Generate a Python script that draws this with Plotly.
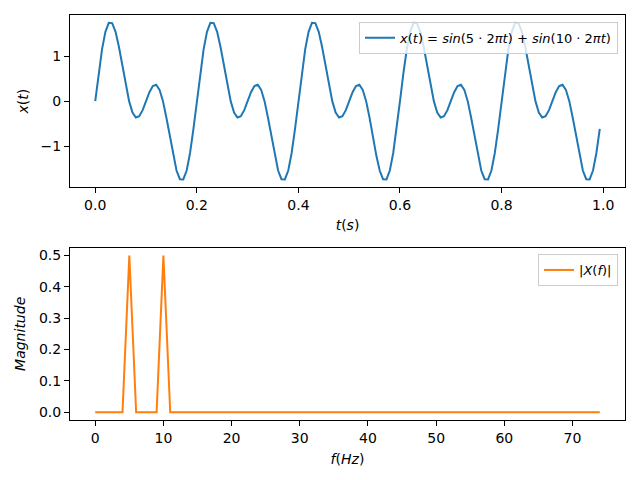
import plotly.graph_objects as go

fs = 150  # samples per second
x_values = [
    0.0, 0.6146, 1.1498, 1.5389, 1.7376, 1.7321, 1.5389, 1.2024, 0.7866, 0.3633,
    0.0, -0.2514, -0.3633, -0.3364, -0.1988, 0.0, 0.1988, 0.3364, 0.3633, 0.2514,
    0.0, -0.3633, -0.7866, -1.2024, -1.5389, -1.7321, -1.7376, -1.5389, -1.1498, -0.6146,
    0.0, 0.6146, 1.1498, 1.5389, 1.7376, 1.7321, 1.5389, 1.2024, 0.7866, 0.3633,
    0.0, -0.2514, -0.3633, -0.3364, -0.1988, 0.0, 0.1988, 0.3364, 0.3633, 0.2514,
    0.0, -0.3633, -0.7866, -1.2024, -1.5389, -1.7321, -1.7376, -1.5389, -1.1498, -0.6146,
    0.0, 0.6146, 1.1498, 1.5389, 1.7376, 1.7321, 1.5389, 1.2024, 0.7866, 0.3633,
    0.0, -0.2514, -0.3633, -0.3364, -0.1988, 0.0, 0.1988, 0.3364, 0.3633, 0.2514,
    0.0, -0.3633, -0.7866, -1.2024, -1.5389, -1.7321, -1.7376, -1.5389, -1.1498, -0.6146,
    0.0, 0.6146, 1.1498, 1.5389, 1.7376, 1.7321, 1.5389, 1.2024, 0.7866, 0.3633,
    0.0, -0.2514, -0.3633, -0.3364, -0.1988, 0.0, 0.1988, 0.3364, 0.3633, 0.2514,
    0.0, -0.3633, -0.7866, -1.2024, -1.5389, -1.7321, -1.7376, -1.5389, -1.1498, -0.6146,
    0.0, 0.6146, 1.1498, 1.5389, 1.7376, 1.7321, 1.5389, 1.2024, 0.7866, 0.3633,
    0.0, -0.2514, -0.3633, -0.3364, -0.1988, 0.0, 0.1988, 0.3364, 0.3633, 0.2514,
    0.0, -0.3633, -0.7866, -1.2024, -1.5389, -1.7321, -1.7376, -1.5389, -1.1498, -0.6146,
]
t_values = [i / fs for i in range(len(x_values))]

freqs = list(range(75))
magnitude = [
    0.0, 0.0, 0.0, 0.0, 0.0, 0.5, 0.0, 0.0, 0.0, 0.0,
    0.5, 0.0, 0.0, 0.0, 0.0, 0.0, 0.0, 0.0, 0.0, 0.0,
    0.0, 0.0, 0.0, 0.0, 0.0, 0.0, 0.0, 0.0, 0.0, 0.0,
    0.0, 0.0, 0.0, 0.0, 0.0, 0.0, 0.0, 0.0, 0.0, 0.0,
    0.0, 0.0, 0.0, 0.0, 0.0, 0.0, 0.0, 0.0, 0.0, 0.0,
    0.0, 0.0, 0.0, 0.0, 0.0, 0.0, 0.0, 0.0, 0.0, 0.0,
    0.0, 0.0, 0.0, 0.0, 0.0, 0.0, 0.0, 0.0, 0.0, 0.0,
    0.0, 0.0, 0.0, 0.0, 0.0,
]

top_ticks = [0.0, 0.2, 0.4, 0.6, 0.8, 1.0]
top_yticks = [-1, 0, 1]
bot_ticks = [0, 10, 20, 30, 40, 50, 60, 70]
bot_yticks = [0.0, 0.1, 0.2, 0.3, 0.4, 0.5]

FONT = "DejaVu Sans"
FS = 14
LFS = 13
fig = go.Figure()
fig.add_trace(go.Scatter(
    x=t_values, y=x_values, mode="lines",
    line=dict(color="#1f77b4", width=2),
    name="<i>x</i>(<i>t</i>) = <i>sin</i>(5 · 2<i>πt</i>) + <i>sin</i>(10 · 2<i>πt</i>)",
    xaxis="x", yaxis="y", legend="legend",
))
fig.add_trace(go.Scatter(
    x=freqs, y=magnitude, mode="lines",
    line=dict(color="#ff7f0e", width=2),
    name="|<i>X</i>(<i>f</i>)|",
    xaxis="x2", yaxis="y2", legend="legend2",
))

axis_common = dict(
    showline=True, mirror=True, linecolor="black", linewidth=1,
    ticks="outside", ticklen=5, tickwidth=1, tickcolor="black",
    showgrid=False, zeroline=False, automargin=False,
    tickfont=dict(family=FONT, size=FS, color="black"),
)
# plot area: x 70..625, y 15..420 (pixels)
H = 405.0
fig.update_layout(
    width=640, height=480,
    margin=dict(l=70, r=15, t=15, b=60, autoexpand=False),
    paper_bgcolor="white", plot_bgcolor="white",
    font=dict(family=FONT, size=FS, color="black"),
    xaxis=dict(domain=[0, 1], anchor="y", range=[-0.0497, 1.043],
               tickvals=top_ticks, ticktext=["0.0", "0.2", "0.4", "0.6", "0.8", "1.0"],
               title=dict(text="<i>t</i>(<i>s</i>)", standoff=8, font=dict(family=FONT, size=FS)),
               **axis_common),
    yaxis=dict(domain=[(420 - 187.3) / H, 1.0], anchor="x",
               range=[-1.9114, 1.9114], tickvals=top_yticks, ticktext=["−1", "0", "1"],
               title=dict(text="<i>x</i>(<i>t</i>)", standoff=8, font=dict(family=FONT, size=FS)),
               **axis_common),
    xaxis2=dict(domain=[0, 1], anchor="y2", range=[-3.7, 77.7],
                tickvals=bot_ticks,
                title=dict(text="<i>f</i>(<i>Hz</i>)", standoff=9, font=dict(family=FONT, size=FS)),
                **axis_common),
    yaxis2=dict(domain=[0.0, (420 - 247.7) / H], anchor="x2",
                range=[-0.025, 0.525], tickvals=bot_yticks,
                ticktext=["0.0", "0.1", "0.2", "0.3", "0.4", "0.5"],
                title=dict(text="<i>Magnitude</i>", standoff=10, font=dict(family=FONT, size=FS)),
                **axis_common),
    legend=dict(x=(618 - 70) / 555, y=(420 - 21.7) / H, xanchor="right", yanchor="top",
                bgcolor="rgba(255,255,255,0.8)", bordercolor="#cccccc", borderwidth=1,
                font=dict(family=FONT, size=LFS), itemwidth=30),
    legend2=dict(x=(618 - 70) / 555, y=(420 - 254) / H, xanchor="right", yanchor="top",
                 bgcolor="rgba(255,255,255,0.8)", bordercolor="#cccccc", borderwidth=1,
                 font=dict(family=FONT, size=LFS), itemwidth=30),
    showlegend=True,
)

fig.write_html("out.html", config={"displayModeBar": False},
               post_script="document.body.style.margin='0';document.body.style.padding='0';")
